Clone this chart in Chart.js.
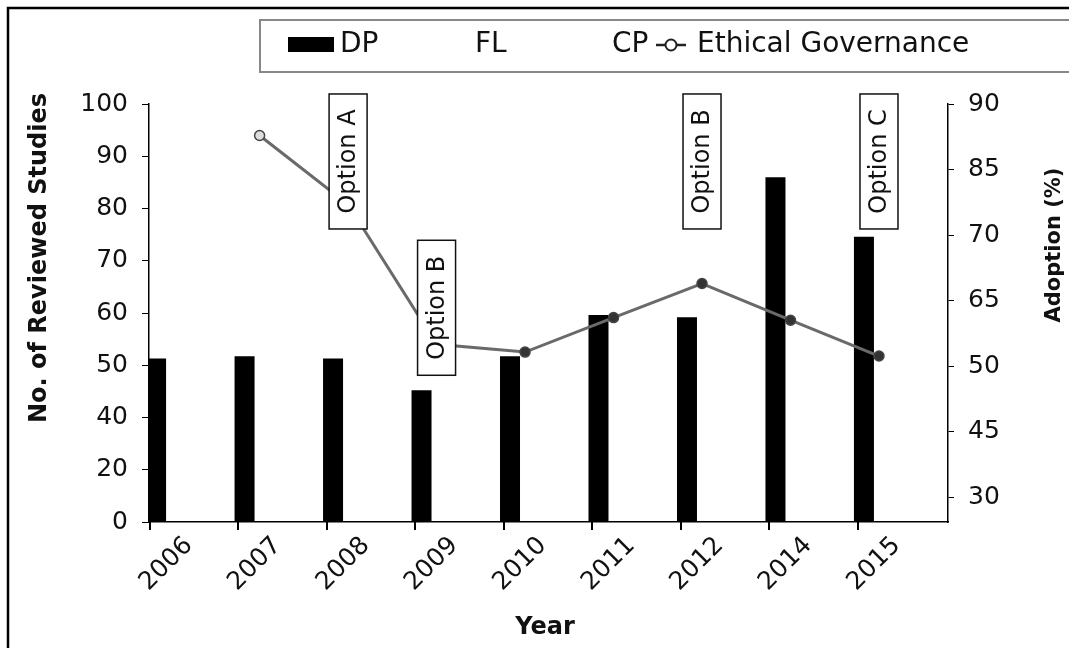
<!DOCTYPE html>
<html>
<head>
<meta charset="utf-8">
<script src="https://cdn.jsdelivr.net/npm/chart.js@4.4.1/dist/chart.umd.min.js"></script>
<style>
  html, body { margin: 0; padding: 0; background: #fff; }
  #wrap { width: 1069px; height: 648px; position: relative; }
</style>
</head>
<body>
<div id="wrap"><canvas id="chart"></canvas></div>
<script>
// Data
const years = ["2006", "2007", "2008", "2009", "2010", "2011", "2012", "2014", "2015"];
const dpValues = [51.3, 51.7, 51.3, 45.2, 51.7, 59.6, 59.2, 86.0, 74.6];
const flValues = [null, null, null, null, null, null, null, null, null];
const cpValues = [null, null, null, null, null, null, null, null, null];
const ethicalValues = [null, 87.6, 77.0, 55.0, 53.2, 61.1, 66.3, 60.5, 52.3];

// Tick labels (the axes are not evenly numbered)
const leftTickLabels = [0, 20, 40, 50, 60, 70, 80, 90, 100];
const rightTickLabels = [30, 45, 50, 65, 70, 85, 90];

// Boxed notes
const optionYears = ["2008", "2009", "2012", "2015"];
const optionLabels = ["Option A", "Option B", "Option B", "Option C"];
const optionLevels = [89, 61, 89, 89];

const FONT = "DejaVu Sans";
const TICK_SHIFT = -0.24; // tick marks sit a bit left of each year
const LABEL_SHIFT = 0.2; // rotated year labels end a bit right of it

/** Map a value onto the evenly spaced tick positions of an axis */
function toAxisPos(v, labels) {
  if (v === null || v === undefined) return null;
  let i = 0;
  while (i < labels.length - 2 && v > labels[i + 1]) i++;
  return i + (v - labels[i]) / (labels[i + 1] - labels[i]);
}

// Outer frame + white background
const framePlugin = {
  id: "frame",
  beforeDraw(chart) {
    const { ctx, width, height } = chart;
    ctx.save();
    ctx.fillStyle = "#fff";
    ctx.fillRect(0, 0, width, height);
    ctx.strokeStyle = "#000";
    ctx.lineWidth = 2.5;
    ctx.beginPath();
    ctx.moveTo(8, height + 2);
    ctx.lineTo(8, 8);
    ctx.lineTo(width + 2, 8);
    ctx.stroke();
    ctx.restore();
  },
};

// Boxed "Option" notes, drawn over the line
const optionPlugin = {
  id: "options",
  afterDatasetsDraw(chart) {
    const { ctx } = chart;
    const xs = chart.scales.x;
    const ys = chart.scales.y;
    ctx.save();
    optionYears.forEach((yr, i) => {
      const cx = xs.getPixelForValue(years.indexOf(yr));
      const cy = ys.getPixelForValue(toAxisPos(optionLevels[i], leftTickLabels));
      const w = 38, h = 135;
      ctx.fillStyle = "#fff";
      ctx.fillRect(cx - w / 2, cy - h / 2, w, h);
      ctx.strokeStyle = "#111";
      ctx.lineWidth = 1.5;
      ctx.strokeRect(cx - w / 2, cy - h / 2, w, h);
      ctx.translate(cx, cy);
      ctx.rotate(-Math.PI / 2);
      ctx.fillStyle = "#111";
      ctx.font = `24px "${FONT}"`;
      ctx.textAlign = "center";
      ctx.textBaseline = "middle";
      ctx.fillText(optionLabels[i], 0, 1);
      ctx.setTransform(1, 0, 0, 1, 0, 0);
    });
    ctx.restore();
  },
};

// Legend box, year tick marks and axis titles
const legendPlugin = {
  id: "boxLegend",
  afterDraw(chart) {
    const { ctx, chartArea } = chart;
    const ds = chart.data.datasets;
    const xs = chart.scales.x;
    ctx.save();

    // tick marks between the years
    ctx.fillStyle = "#000";
    years.forEach((_, i) => {
      const x = Math.round(xs.getPixelForValue(i + TICK_SHIFT));
      ctx.fillRect(x - 1, chartArea.bottom, 2, 8);
    });

    ctx.strokeStyle = "#888";
    ctx.lineWidth = 2;
    ctx.strokeRect(260, 20, 830, 52);

    ctx.font = `28px "${FONT}"`;
    ctx.textBaseline = "middle";
    ctx.textAlign = "left";
    const itemX = [288, 423, 560, 656];
    ds.forEach((d, i) => {
      const x = itemX[i];
      if (d.type === "line") {
        ctx.strokeStyle = "#222";
        ctx.lineWidth = 2.5;
        ctx.beginPath();
        ctx.moveTo(x, 45);
        ctx.lineTo(x + 30, 45);
        ctx.stroke();
        ctx.beginPath();
        ctx.arc(x + 15, 45, 5.5, 0, Math.PI * 2);
        ctx.fillStyle = "#fff";
        ctx.fill();
        ctx.lineWidth = 2;
        ctx.stroke();
        ctx.fillStyle = "#111";
        ctx.fillText(d.label, x + 41, 45);
      } else {
        ctx.fillStyle = d.backgroundColor;
        ctx.fillRect(x, 37, 46, 15);
        ctx.fillStyle = "#111";
        ctx.fillText(d.label, x + 52, 45);
      }
    });

    ctx.fillStyle = "#111";
    ctx.textAlign = "center";
    ctx.font = `bold 24px "${FONT}"`;
    ctx.fillText("Year", 545, 628);

    ctx.translate(40, 258);
    ctx.rotate(-Math.PI / 2);
    ctx.fillText("No. of Reviewed Studies", 0, 0);
    ctx.setTransform(1, 0, 0, 1, 0, 0);

    ctx.font = `bold 21px "${FONT}"`;
    ctx.translate(1055, 245);
    ctx.rotate(-Math.PI / 2);
    ctx.fillText("Adoption (%)", 0, 0);
    ctx.restore();
  },
};

Chart.defaults.font.family = FONT;
Chart.defaults.color = "#111";

const toPoints = (values, labels) =>
  values.map((v, i) => ({ x: i, y: toAxisPos(v, labels) }));

const ctx = document.getElementById("chart");
new Chart(ctx, {
  type: "bar",
  data: {
    labels: years,
    datasets: [
      {
        label: "DP",
        data: toPoints(dpValues, leftTickLabels),
        backgroundColor: "#000",
        yAxisID: "y",
        order: 1,
      },
      {
        label: "FL",
        data: toPoints(flValues, leftTickLabels),
        backgroundColor: "#fff",
        yAxisID: "y",
        order: 1,
      },
      {
        label: "CP",
        data: toPoints(cpValues, leftTickLabels),
        backgroundColor: "#fff",
        yAxisID: "y",
        order: 1,
      },
      {
        type: "line",
        label: "Ethical Governance",
        data: toPoints(ethicalValues, rightTickLabels),
        yAxisID: "y1",
        borderColor: "#6a6a6a",
        borderWidth: 3,
        pointRadius: 5,
        pointBorderColor: "#444",
        pointBorderWidth: 1.5,
        pointBackgroundColor: (c) => (c.dataIndex === 1 ? "#ddd" : "#333"),
        tension: 0,
        order: 0,
      },
    ],
  },
  options: {
    responsive: true,
    maintainAspectRatio: false,
    animation: false,
    // the bar ruler uses the closest gap between x values/ticks (1 year here)
    categoryPercentage: 0.51,
    barPercentage: 1.33,
    layout: { padding: { top: 104, left: 0, right: 0, bottom: 0 } },
    plugins: {
      legend: { display: false },
      tooltip: { enabled: false },
    },
    scales: {
      x: {
        type: "linear",
        offset: false,
        min: -0.25,
        max: 8.78,
        afterFit: (s) => { s.height = 126; },
        afterBuildTicks: (s) => {
          s.ticks = years.map((_, i) => ({ value: i + LABEL_SHIFT }));
        },
        border: { display: true, color: "#000", width: 1.5 },
        grid: {
          offset: false,
          drawOnChartArea: false,
          drawTicks: true,
          tickLength: 7,
          tickColor: "rgba(0,0,0,0)",
        },
        ticks: {
          font: { size: 25 },
          maxRotation: 45,
          minRotation: 45,
          autoSkip: false,
          padding: 2,
          callback: (v) => years[Math.round(v - LABEL_SHIFT)],
        },
      },
      y: {
        position: "left",
        min: 0,
        max: leftTickLabels.length - 1,
        afterFit: (s) => { s.width = 149; },
        afterBuildTicks: (s) => { s.ticks = leftTickLabels.map((_, i) => ({ value: i })); },
        border: { display: true, color: "#000", width: 1.5 },
        grid: { drawOnChartArea: false, drawTicks: true, tickLength: 7, color: "#000" },
        ticks: {
          font: { size: 25 },
          padding: 14,
          callback: (v) => leftTickLabels[v],
        },
      },
      y1: {
        position: "right",
        min: -0.38,
        max: rightTickLabels.length - 1,
        afterFit: (s) => { s.width = 121; },
        afterBuildTicks: (s) => { s.ticks = rightTickLabels.map((_, i) => ({ value: i })); },
        border: { display: true, color: "#000", width: 1.5 },
        grid: { drawOnChartArea: false, drawTicks: true, tickLength: 6, color: "#000" },
        ticks: {
          font: { size: 25 },
          padding: 14,
          callback: (v) => rightTickLabels[v],
        },
      },
    },
  },
  plugins: [framePlugin, optionPlugin, legendPlugin],
});
</script>
</body>
</html>
